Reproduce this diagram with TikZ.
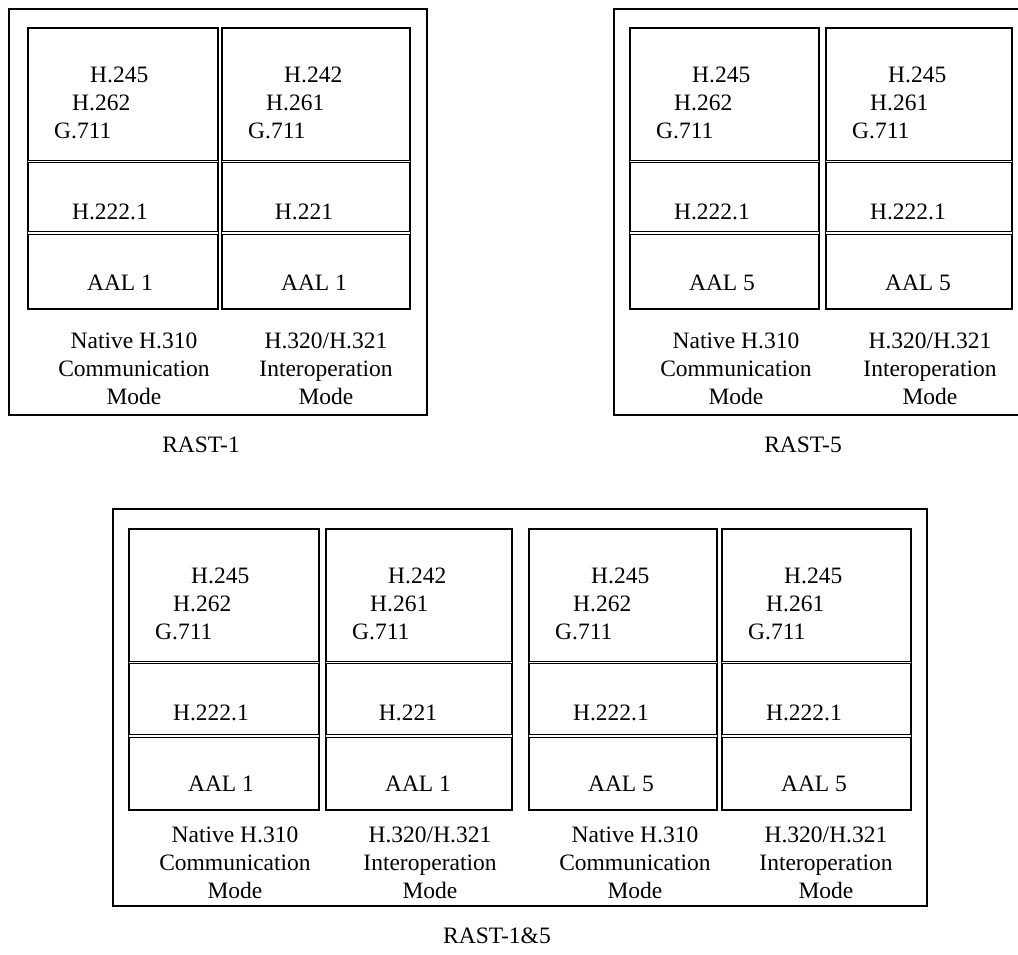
\documentclass[tikz,border=0pt]{standalone}
\usepackage{fontspec}
\setmainfont{Liberation Serif}
\begin{document}
\begin{tikzpicture}[x=1pt,y=-1pt,
  panel/.style={draw, line width=1.2pt},
  colbox/.style={draw, line width=1.2pt},
  divider/.style={draw, line width=0.9pt, double, double distance=1.3pt},
  txt/.style={inner sep=0pt, font=\fontsize{23.5}{28}\selectfont},
  lbl/.style={txt, align=center, anchor=base}]
\useasboundingbox (0,0) rectangle (1018,954);
% outer panels
\draw[panel] (9,9) rectangle (427,415);
\draw[panel] (614,9) rectangle (1030,415);
\draw[panel] (113,509) rectangle (927,906);
% columns
\foreach \n/\x/\w/\y/\dd/\ly/\a/\b/\m/\l/\md in {
  ca/28/190/28/205/376/H.245/H.262/H.222.1/AAL 1/0,
  cb/222/188/28/205/376/H.242/H.261/H.221/AAL 1/1,
  cc/630/189/28/205/376/H.245/H.262/H.222.1/AAL 5/0,
  cd/826/186/28/205/376/H.245/H.261/H.222.1/AAL 5/1,
  ce/129/190/529/207/369/H.245/H.262/H.222.1/AAL 1/0,
  cf/326/186/529/207/369/H.242/H.261/H.221/AAL 1/1,
  cg/529/188/529/207/369/H.245/H.262/H.222.1/AAL 5/0,
  ch/722/189/529/207/369/H.245/H.261/H.222.1/AAL 5/1}{
  \draw[colbox] (\x,\y) rectangle ({\x+\w},{\y+281});
  \draw[divider] (\x,{\y+133.5}) -- ({\x+\w},{\y+133.5});
  \draw[divider] (\x,{\y+\dd}) -- ({\x+\w},{\y+\dd});
  \node[txt, anchor=base west] (\n-a) at ({\x+62},{\y+54}) {\a};
  \node[txt, anchor=base west] (\n-b) at ({\x+44},{\y+82}) {\b};
  \node[txt, anchor=base west] (\n-c) at ({\x+26},{\y+110}) {G.711};
  \node[txt, anchor=base] (\n-m) at ({\x+82},{\y+191}) {\m};
  \node[txt, anchor=base] (\n-l) at ({\x+92},{\y+262}) {\l};
  \ifnum\md=0
    \node[lbl] (\n-lab) at ({\x+106},{\y+\ly}) {Native H.310\\Communication\\Mode};
  \else
    \node[lbl] (\n-lab) at ({\x+104},{\y+\ly}) {H.320/H.321\\Interoperation\\Mode};
  \fi
}
% captions
\node[txt, anchor=base] (r1) at (201,452) {RAST-1};
\node[txt, anchor=base] (r5) at (803,452) {RAST-5};
\node[txt, anchor=base] (r15) at (497,943) {RAST-1\&5};
\end{tikzpicture}
\end{document}
